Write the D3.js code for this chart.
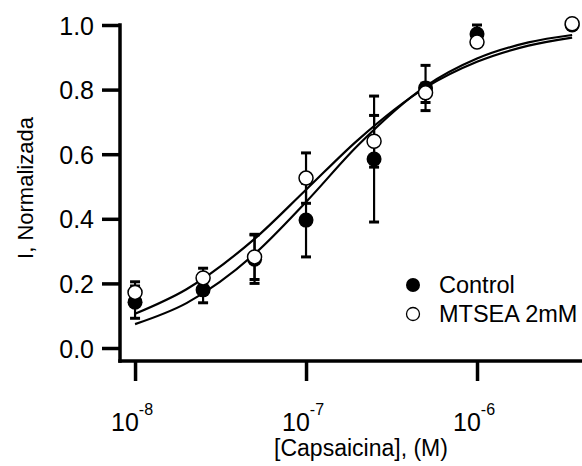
<!DOCTYPE html>
<meta charset="utf-8">
<script src="https://d3js.org/d3.v7.min.js"></script>
<style>
  body { margin: 0; background: #fff; }
  text { font-family: Arial, "Liberation Sans", sans-serif; fill: #000; }
</style>
<div id="my_dataviz"></div>
<script>

    // concentrations (M)
    var conc = [1e-8, 2.5e-8, 5e-8, 1e-7, 2.5e-7, 5e-7, 1e-6, 3.6e-6];

    // Control (filled)
    var controlMean = [0.142, 0.18, 0.275, 0.396, 0.585, 0.805, 0.972, 1.0];
    var controlErr  = [0.05, 0.04, 0.075, 0.114, 0.195, 0.07, 0.028, 0.0];

    // MTSEA 2mM (open)
    var mtseaMean = [0.172, 0.217, 0.282, 0.526, 0.64, 0.79, 0.947, 1.004];
    var mtseaErr  = [0.033, 0.03, 0.07, 0.078, 0.08, 0.03, 0.01, 0.0];

    // fitted curves
    var fitConc    = [1e-8, 2e-8, 5e-8, 1e-7, 2e-7, 5e-7, 1e-6, 2e-6, 3.6e-6];
    var fitMtsea   = [0.106, 0.182, 0.338, 0.49, 0.643, 0.806, 0.886, 0.936, 0.961];
    var fitControl = [0.074, 0.139, 0.291, 0.452, 0.626, 0.81, 0.896, 0.946, 0.969];

    var yTicks = [0, 0.2, 0.4, 0.6, 0.8, 1.0];
    var xTicks = [1e-8, 1e-7, 1e-6];
    var xTickExp = ["-8", "-7", "-6"];

    var legendLabels = ["Control", "MTSEA 2mM"];

    var width = 582, height = 466;

    var svg = d3.select("#my_dataviz")
        .append("svg")
        .attr("width", width)
        .attr("height", height);

    // scales
    var x = d3.scaleLog()
        .domain([Math.pow(10, -8.088), Math.pow(10, -5.386)])
        .range([120, 582]);

    var y = d3.scaleLinear()
        .domain([0, 1])
        .range([348, 25]);

    var axisBottomY = 361;

    // Y axis
    var gy = svg.append("g")
        .attr("transform", "translate(120,0)")
        .call(d3.axisLeft(y).tickValues(yTicks).tickSize(18).tickSizeOuter(0)
            .tickFormat(d3.format(".1f")).tickPadding(8));
    gy.select(".domain").remove();
    gy.selectAll(".tick line").attr("stroke", "#000").attr("stroke-width", 3.5);
    gy.selectAll(".tick text").style("font-size", "25px").attr("dy", "0.36em");

    svg.append("line")
        .attr("x1", 120).attr("x2", 120)
        .attr("y1", y(1) - 1.75).attr("y2", axisBottomY + 1.75)
        .attr("stroke", "#000").attr("stroke-width", 3.5);

    // X axis
    var gx = svg.append("g")
        .attr("transform", "translate(0," + axisBottomY + ")")
        .call(d3.axisBottom(x).tickValues(xTicks).tickSize(20).tickSizeOuter(0).tickFormat(""));
    gx.select(".domain").remove();
    gx.selectAll(".tick line").attr("stroke", "#000").attr("stroke-width", 3.5);

    svg.append("line")
        .attr("x1", 120 - 1.75).attr("x2", 582)
        .attr("y1", axisBottomY).attr("y2", axisBottomY)
        .attr("stroke", "#000").attr("stroke-width", 3.5);

    // x tick labels: 10 with superscript exponent
    var xl = svg.append("g").selectAll("text")
        .data(xTicks)
        .enter()
        .append("text")
        .attr("x", function (d) { return x(d) - 3; })
        .attr("y", 431)
        .attr("text-anchor", "middle")
        .style("font-size", "25px");
    xl.append("tspan").text("10");
    xl.append("tspan")
        .attr("dy", -16)
        .style("font-size", "16px")
        .text(function (d, i) { return xTickExp[i]; });

    // axis titles
    svg.append("text")
        .attr("x", 361)
        .attr("y", 456)
        .attr("text-anchor", "middle")
        .style("font-size", "23px")
        .text("[Capsaicina], (M)");

    svg.append("text")
        .attr("transform", "translate(33,188) rotate(-90)")
        .attr("text-anchor", "middle")
        .style("font-size", "22px")
        .text("I, Normalizada");

    // fitted curves
    var line = d3.line()
        .x(function (d) { return x(d[0]); })
        .y(function (d) { return y(d[1]); })
        .curve(d3.curveMonotoneX);

    [fitControl, fitMtsea].forEach(function (fit) {
        svg.append("path")
            .datum(fitConc.map(function (c, i) { return [c, fit[i]]; }))
            .attr("d", line)
            .attr("fill", "none")
            .attr("stroke", "#000")
            .attr("stroke-width", 2.2);
    });

    // error bars
    function errorBars(mean, err) {
        var g = svg.append("g").attr("stroke", "#000").attr("stroke-width", 2.2);
        var rows = conc.map(function (c, i) { return {c: c, m: mean[i], e: err[i]}; })
            .filter(function (d) { return d.e > 0; });
        g.selectAll(".v").data(rows).enter().append("line")
            .attr("x1", function (d) { return x(d.c); })
            .attr("x2", function (d) { return x(d.c); })
            .attr("y1", function (d) { return y(d.m - d.e); })
            .attr("y2", function (d) { return y(d.m + d.e); });
        [-1, 1].forEach(function (s) {
            g.selectAll(".c" + s).data(rows).enter().append("line")
                .attr("x1", function (d) { return x(d.c) - 5; })
                .attr("x2", function (d) { return x(d.c) + 5; })
                .attr("y1", function (d) { return y(d.m + s * d.e); })
                .attr("y2", function (d) { return y(d.m + s * d.e); })
                .attr("stroke-width", 3);
        });
    }
    errorBars(controlMean, controlErr);
    errorBars(mtseaMean, mtseaErr);

    // markers
    svg.append("g").selectAll("circle")
        .data(conc)
        .enter()
        .append("circle")
        .attr("cx", function (d) { return x(d); })
        .attr("cy", function (d, i) { return y(controlMean[i]); })
        .attr("r", 7.5)
        .attr("fill", "#000");

    svg.append("g").selectAll("circle")
        .data(conc)
        .enter()
        .append("circle")
        .attr("cx", function (d) { return x(d); })
        .attr("cy", function (d, i) { return y(mtseaMean[i]); })
        .attr("r", 7)
        .attr("fill", "#fff")
        .attr("stroke", "#000")
        .attr("stroke-width", 1.5);

    // legend
    var lg = svg.append("g");
    lg.append("circle").attr("cx", 413).attr("cy", 285).attr("r", 7).attr("fill", "#000");
    lg.append("circle").attr("cx", 413).attr("cy", 314).attr("r", 6.5)
        .attr("fill", "#fff").attr("stroke", "#000").attr("stroke-width", 1.3);
    lg.selectAll("text")
        .data(legendLabels)
        .enter()
        .append("text")
        .attr("x", 439)
        .attr("y", function (d, i) { return 293 + i * 29; })
        .style("font-size", "23.5px")
        .text(function (d) { return d; });

</script>
